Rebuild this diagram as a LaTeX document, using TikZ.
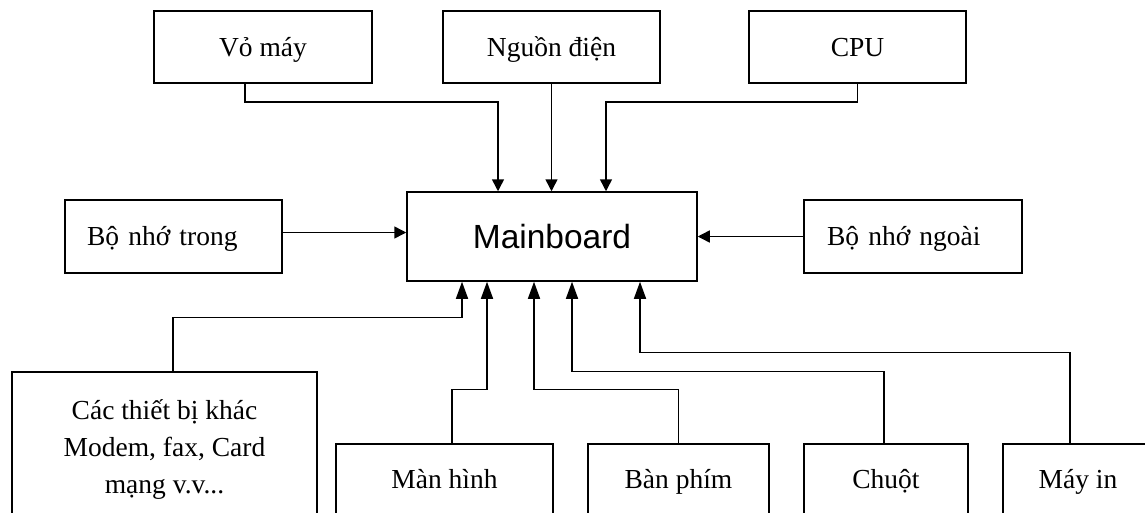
\documentclass[tikz,border=0pt]{standalone}
\usepackage{fontspec}
\setmainfont{Liberation Serif}
\newfontfamily\mbfont{Liberation Sans}
\usetikzlibrary{positioning,arrows.meta}

\begin{document}
\begin{tikzpicture}[x=1pt,y=-1pt,line width=1.5pt,
  box/.style={draw,inner sep=0pt,minimum height=72pt,text height=22pt,text depth=4pt,
    font=\fontsize{27.5}{37}\selectfont},
  lbox/.style={box,align=left,inner xsep=22pt,text width=173pt},
  arr/.style={-{Triangle[length=12pt,width=12pt]}},
  arrup/.style={-{Triangle[length=17pt,width=12pt]}}]
\useasboundingbox (0,0) rectangle (1145,512);
\clip (0,0) rectangle (1145,512);
% top row
\node[box,minimum width=218pt] (vomay) at (263,47) {Vỏ máy};
\node[box,minimum width=217pt] (nguon) at (551.5,47) {Nguồn điện};
\node[box,minimum width=217pt] (cpu) at (857.5,47) {CPU};
% middle row
\node[draw,inner sep=0pt,minimum width=290pt,minimum height=89pt,
  font=\mbfont\fontsize{33.5}{40}\selectfont] (mainboard) at (552,236.5) {Mainboard};
\node[lbox,minimum height=73pt] (bntrong) at (173.5,236.5) {Bộ nhớ trong};
\node[lbox,minimum height=73pt,inner xsep=23pt,text width=172pt] (bnngoai) at (913,236.5) {Bộ nhớ ngoài};
% bottom row
\node[box,align=center,text height=,text depth=,minimum width=305pt,minimum height=156pt] (khac) at (164.5,450)
  {Các thiết bị khác\\Modem, fax, Card\\mạng v.v...};
\node[box,minimum width=217pt,minimum height=70pt] (manhinh) at (444.5,479) {Màn hình};
\node[box,minimum width=181pt,minimum height=70pt] (banphim) at (678.5,479) {Bàn phím};
\node[box,minimum width=164pt,minimum height=70pt] (chuot) at (886,479) {Chuột};
\node[box,minimum width=150pt,minimum height=70pt] (mayin) at (1078,479) {Máy in};
% connectors into the mainboard
\draw[arr] ([xshift=-18pt]vomay.south) -- ++(0,18) -| ([xshift=-54pt]mainboard.north);
\draw[arr] (nguon.south) -- (nguon.south |- mainboard.north);
\draw[arr] (cpu.south) -- ++(0,18) -| ([xshift=54pt]mainboard.north);
\draw[arr] ([yshift=4pt]bntrong.east) -- ([yshift=4pt]mainboard.west);
\draw[arr] (bnngoai.west) -- (bnngoai.west -| mainboard.east);
\draw[arrup] ([xshift=8.5pt]khac.north) -- ++(0,-54) -| ([xshift=-90pt]mainboard.south);
\draw[arrup] ([xshift=7.5pt]manhinh.north) -- ++(0,-54) -| ([xshift=-65pt]mainboard.south);
\draw[arrup] (banphim.north) -- ++(0,-54) -| ([xshift=-18pt]mainboard.south);
\draw[arrup] ([xshift=-2pt]chuot.north) -- ++(0,-72) -| ([xshift=20pt]mainboard.south);
\draw[arrup] ([xshift=-8pt]mayin.north) -- ++(0,-91) -| ([xshift=88pt]mainboard.south);
\end{tikzpicture}
\end{document}
